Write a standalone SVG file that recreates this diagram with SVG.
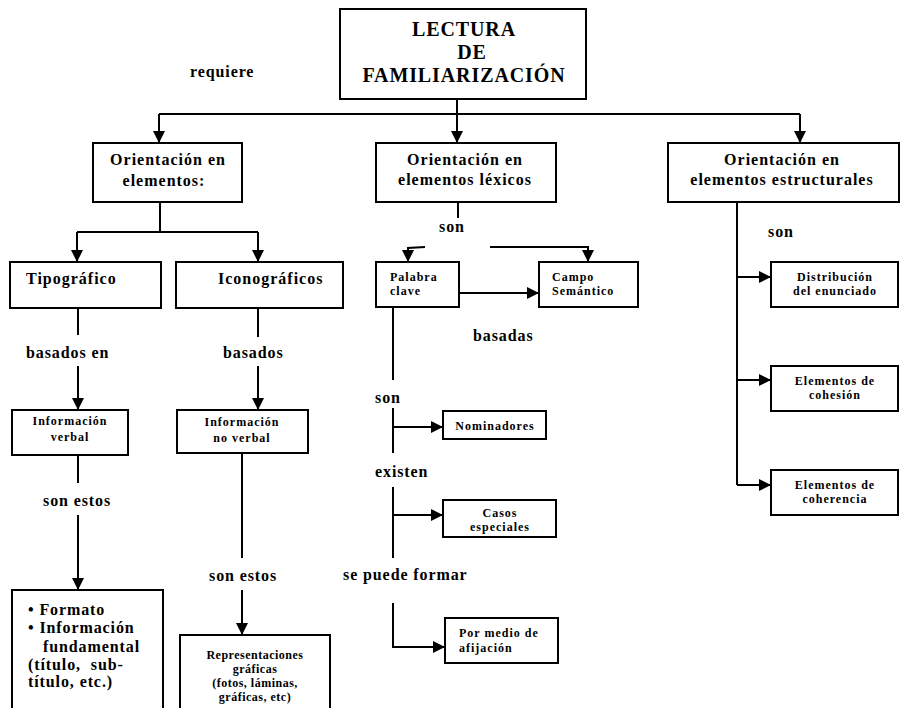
<svg xmlns="http://www.w3.org/2000/svg" width="900" height="708" viewBox="0 0 900 708">
<defs>
<marker id="ah" markerUnits="userSpaceOnUse" markerWidth="12" markerHeight="12" refX="12" refY="6" orient="auto">
<path d="M0,0 L12,6 L0,12 z" fill="#000"/>
</marker>
<style>
.box{fill:#fff;stroke:#000;stroke-width:2}
.c{fill:none;stroke:#000;stroke-width:2}
.a{marker-end:url(#ah)}
text{font-family:"Liberation Serif","Times New Roman",serif;font-weight:bold;fill:#000}
.t{font-size:20px;letter-spacing:0.9px;text-anchor:middle}
.h{font-size:16px;letter-spacing:1px;text-anchor:middle}
.l{font-size:16px;letter-spacing:0.9px}
.s{font-size:12px;letter-spacing:1px}
.m{text-anchor:middle}
</style>
</defs>
<rect width="900" height="708" fill="#fff"/>

<g id="connectors">
<path class="c a" d="M457,99 V143"/>
<path class="c" d="M159,114 H800"/>
<path class="c a" d="M159,114 V143"/>
<path class="c a" d="M800,114 V143"/>
<path class="c" d="M160,202 V232 M77,232 H258"/>
<path class="c a" d="M77,232 V262"/>
<path class="c a" d="M258,232 V262"/>
<path class="c" d="M78,308 V335"/>
<path class="c a" d="M78,366 V410"/>
<path class="c" d="M258,308 V337"/>
<path class="c a" d="M258,366 V410"/>
<path class="c" d="M78,455 V483"/>
<path class="c a" d="M78,515 V590"/>
<path class="c" d="M242,453 V558"/>
<path class="c a" d="M242,590 V635"/>
<path class="c" d="M458,202 V218"/>
<path class="c a" d="M425,247 L408,248 V262"/>
<path class="c a" d="M490,247 H588 V262"/>
<path class="c a" d="M459,293 H539"/>
<path class="c" d="M393,307 V380"/>
<path class="c" d="M393,408 V453"/>
<path class="c a" d="M393,427 H443"/>
<path class="c" d="M393,487 V558"/>
<path class="c a" d="M393,515 H443"/>
<path class="c a" d="M393,603 V647 H445"/>
<path class="c" d="M737,202 V485"/>
<path class="c a" d="M737,277 H771"/>
<path class="c a" d="M737,380 H771"/>
<path class="c a" d="M737,485 H771"/>
<text class="l" x="190" y="77">requiere</text>
<text class="l" x="26" y="358">basados en</text>
<text class="l" x="223" y="358">basados</text>
<text class="l" x="43" y="506">son estos</text>
<text class="l" x="209" y="581">son estos</text>
<text class="l" x="439" y="232">son</text>
<text class="l" x="473" y="341">basadas</text>
<text class="l" x="375" y="403">son</text>
<text class="l" x="375" y="477">existen</text>
<text class="l" x="343" y="580">se puede formar</text>
<text class="l" x="768" y="237">son</text>
</g>

<g id="n-lectura">
<rect class="box" x="340" y="9" width="246" height="90"/>
<text class="t" x="464" y="36">LECTURA</text>
<text class="t" x="472" y="59">DE</text>
<text class="t" x="464" y="82">FAMILIARIZACIÓN</text>
</g>

<g id="n-orient-elem">
<rect class="box" x="93" y="143" width="149" height="59"/>
<text class="h" x="168" y="165">Orientación en</text>
<text class="h" x="164" y="186">elementos:</text>
</g>

<g id="n-orient-lex">
<rect class="box" x="376" y="143" width="180" height="59"/>
<text class="h" x="465" y="165">Orientación en</text>
<text class="h" x="465" y="185">elementos léxicos</text>
</g>

<g id="n-orient-est">
<rect class="box" x="668" y="143" width="231" height="59"/>
<text class="h" x="782" y="165">Orientación en</text>
<text class="h" x="782" y="185">elementos estructurales</text>
</g>

<g id="n-tipografico">
<rect class="box" x="10" y="262" width="151" height="46"/>
<text class="l" x="26" y="284" style="letter-spacing:1px">Tipográfico</text>
</g>

<g id="n-iconograficos">
<rect class="box" x="176" y="262" width="167" height="46"/>
<text class="l" x="218" y="284" style="letter-spacing:1px">Iconográficos</text>
</g>

<g id="n-info-verbal">
<rect class="box" x="12" y="410" width="116" height="45"/>
<text class="s m" x="70" y="425">Información</text>
<text class="s m" x="70" y="441">verbal</text>
</g>

<g id="n-info-noverbal">
<rect class="box" x="177" y="410" width="131" height="43"/>
<text class="s m" x="242" y="426">Información</text>
<text class="s m" x="242" y="442">no verbal</text>
</g>

<g id="n-formato">
<rect class="box" x="12" y="590" width="151" height="125"/>
<text class="l" x="28" y="615">• Formato</text>
<text class="l" x="28" y="633">• Información</text>
<text class="l" x="43" y="652">fundamental</text>
<text class="l" x="28" y="670" xml:space="preserve">(título,  sub-</text>
<text class="l" x="28" y="687">título, etc.)</text>
</g>

<g id="n-representaciones">
<rect class="box" x="180" y="635" width="150" height="80"/>
<text class="s m" x="255" y="659" style="letter-spacing:0.5px">Representaciones</text>
<text class="s m" x="255" y="673" style="letter-spacing:0.5px">gráficas</text>
<text class="s m" x="255" y="687" style="letter-spacing:0.5px">(fotos, láminas,</text>
<text class="s m" x="255" y="701" style="letter-spacing:0.5px">gráficas, etc)</text>
</g>

<g id="n-palabra">
<rect class="box" x="376" y="262" width="83" height="45"/>
<text class="s" x="390" y="281">Palabra</text>
<text class="s" x="390" y="295">clave</text>
</g>

<g id="n-campo">
<rect class="box" x="539" y="262" width="99" height="45"/>
<text class="s" x="552" y="281">Campo</text>
<text class="s" x="552" y="295">Semántico</text>
</g>

<g id="n-nominadores">
<rect class="box" x="443" y="411" width="103" height="28"/>
<text class="s m" x="495" y="430">Nominadores</text>
</g>

<g id="n-casos">
<rect class="box" x="443" y="500" width="113" height="37"/>
<text class="s m" x="500" y="517">Casos</text>
<text class="s m" x="500" y="531">especiales</text>
</g>

<g id="n-afijacion">
<rect class="box" x="445" y="618" width="113" height="45"/>
<text class="s" x="459" y="637">Por  medio de</text>
<text class="s" x="459" y="652">afijación</text>
</g>

<g id="n-distribucion">
<rect class="box" x="771" y="262" width="127" height="45"/>
<text class="s m" x="835" y="281">Distribución</text>
<text class="s m" x="835" y="295">del enunciado</text>
</g>

<g id="n-cohesion">
<rect class="box" x="771" y="366" width="127" height="45"/>
<text class="s m" x="835" y="385">Elementos de</text>
<text class="s m" x="835" y="399">cohesión</text>
</g>

<g id="n-coherencia">
<rect class="box" x="771" y="470" width="127" height="45"/>
<text class="s m" x="835" y="489">Elementos de</text>
<text class="s m" x="835" y="503">coherencia</text>
</g>
</svg>
